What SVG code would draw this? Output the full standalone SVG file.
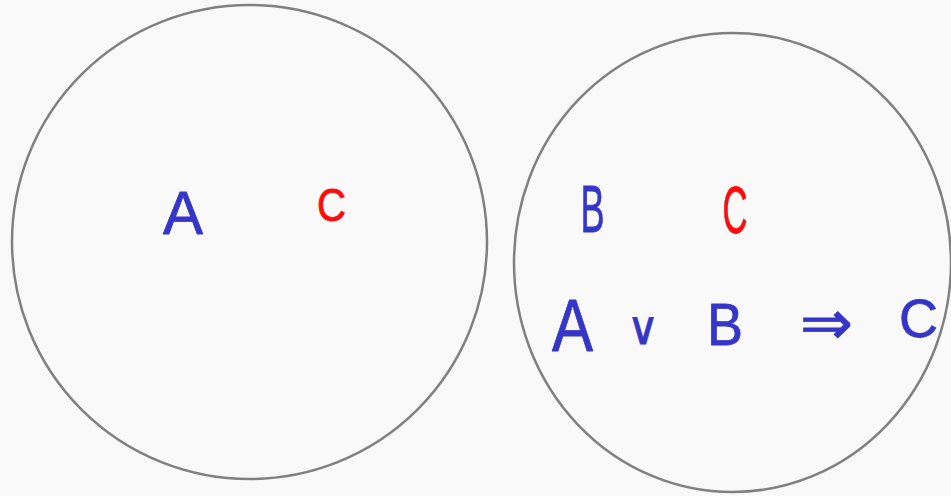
<svg xmlns="http://www.w3.org/2000/svg" width="951" height="496" viewBox="0 0 951 496">
<style>
.bg{fill:#f9f9f9}
.ring{fill:none;stroke:#808080;stroke-width:2.5}
.t{font-family:"Liberation Sans","DejaVu Sans",sans-serif;text-anchor:middle;stroke-width:0.8;stroke-linejoin:round}
.m{font-family:"DejaVu Sans","Liberation Sans",sans-serif;text-anchor:middle;stroke-width:0.8}
.blue{fill:#3535c8;stroke:#3535c8}
.red{fill:#ff0a0a;stroke:#ff0a0a}
</style>
<rect class="bg" x="0" y="0" width="951" height="496"/>
<g id="left-circle">
<ellipse class="ring" cx="249.5" cy="242" rx="237.5" ry="237"/>
<text class="t blue" x="183" y="234" font-size="61" textLength="40" lengthAdjust="spacingAndGlyphs">A</text>
<text class="t red" x="331.5" y="221" font-size="46" textLength="29" lengthAdjust="spacingAndGlyphs">C</text>
</g>
<g id="right-circle">
<ellipse class="ring" cx="732.5" cy="262.5" rx="218.5" ry="229.5"/>
<text class="t blue" x="592.5" y="232" font-size="66" textLength="24" lengthAdjust="spacingAndGlyphs">B</text>
<text class="t red" x="735" y="233" font-size="67" textLength="25" lengthAdjust="spacingAndGlyphs">C</text>
<text class="t blue" x="572.5" y="351" font-size="74" textLength="41" lengthAdjust="spacingAndGlyphs">A</text>
<text class="m blue" x="643" y="344" font-size="46" textLength="32" lengthAdjust="spacingAndGlyphs">∨</text>
<text class="t blue" x="725" y="345" font-size="60" textLength="36" lengthAdjust="spacingAndGlyphs">B</text>
<text class="m blue" x="826.5" y="344" font-size="62" textLength="53" lengthAdjust="spacingAndGlyphs">⇒</text>
<text class="t blue" x="918.5" y="337" font-size="54" textLength="39" lengthAdjust="spacingAndGlyphs">C</text>
</g>
</svg>
